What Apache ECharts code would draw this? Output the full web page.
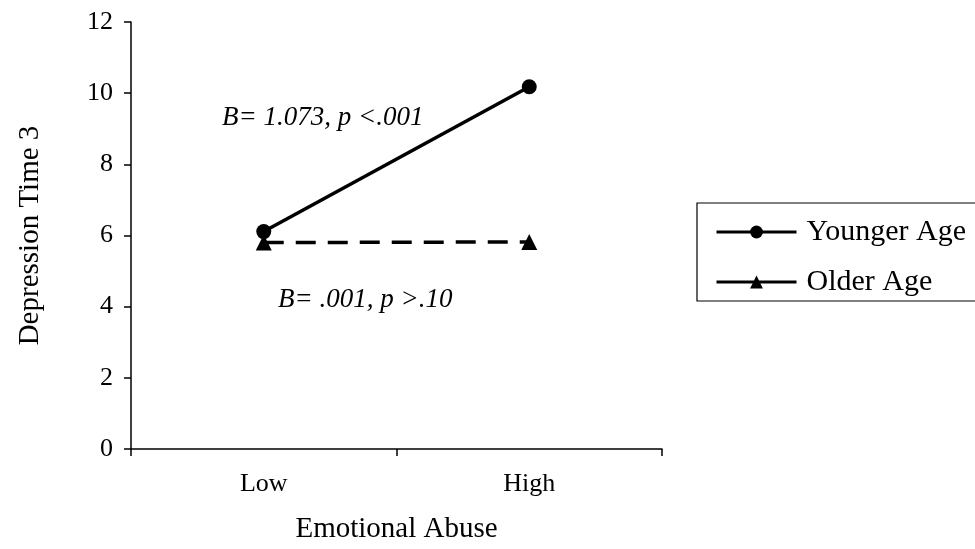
<!DOCTYPE html>
<html><head><meta charset="utf-8">
<script src="https://cdn.jsdelivr.net/npm/echarts@6/dist/echarts.min.js"></script>
<style>html,body{margin:0;padding:0;background:#fff}#c{width:975px;height:549px}</style>
</head><body><div id="c"></div>
<script>
const categories = ['Low', 'High'];
const younger = [6.11, 10.18];
const older = [5.8, 5.82];
const yTicks = [0, 2, 4, 6, 8, 10, 12];
const annotations = ['B= 1.073, p <.001', 'B= .001, p >.10'];

const FONT = 'Liberation Serif';
const chart = echarts.init(document.getElementById('c'));
chart.setOption({
  animation: false,
  backgroundColor: '#fff',
  grid: { left: 131, right: 313, top: 22, bottom: 99 },
  xAxis: {
    type: 'category', data: categories, boundaryGap: true,
    name: 'Emotional Abuse', nameLocation: 'middle', nameGap: 66,
    nameTextStyle: { fontFamily: FONT, fontSize: 29, color: '#000' },
    axisLine: { lineStyle: { color: '#000', width: 1.5 } },
    axisTick: { show: true, length: 7, lineStyle: { color: '#000', width: 1.5 } },
    axisLabel: { fontFamily: FONT, fontSize: 26, color: '#000', margin: 22 },
    splitLine: { show: false }
  },
  yAxis: {
    type: 'value', min: yTicks[0], max: yTicks[yTicks.length - 1], interval: 2,
    name: 'Depression Time 3', nameLocation: 'middle', nameGap: 86,
    nameTextStyle: { fontFamily: FONT, fontSize: 29, color: '#000' },
    axisLine: { show: true, lineStyle: { color: '#000', width: 1.5 } },
    axisTick: { show: true, length: 7, lineStyle: { color: '#000', width: 1.5 } },
    axisLabel: { fontFamily: FONT, fontSize: 26, color: '#000', margin: 18 },
    splitLine: { show: false }
  },
  legend: {
    orient: 'vertical', left: 697, top: 203,
    borderColor: '#000', borderWidth: 1.2,
    padding: [13, 30, 3, 18],
    itemWidth: 80, itemHeight: 16, itemGap: 18,
    textStyle: { fontFamily: FONT, fontSize: 30, color: '#000', lineHeight: 32, padding: [0, 0, 0, 5] },
    data: [
      { name: 'Younger Age', lineStyle: { width: 3 } },
      { name: 'Older Age', lineStyle: { type: 'solid', width: 3 } }
    ]
  },
  graphic: [
    { type: 'text', left: 222, top: 104, style: { text: annotations[0], fontFamily: FONT, fontSize: 27, fontStyle: 'italic', fill: '#000' } },
    { type: 'text', left: 278, top: 286, style: { text: annotations[1], fontFamily: FONT, fontSize: 27, fontStyle: 'italic', fill: '#000' } }
  ],
  series: [
    { name: 'Younger Age', type: 'line', data: younger, symbol: 'circle', symbolSize: 15,
      itemStyle: { color: '#000' }, lineStyle: { color: '#000', width: 3.5 }, z: 3 },
    { name: 'Older Age', type: 'line', data: older, symbol: 'triangle', symbolSize: 16,
      itemStyle: { color: '#000' }, lineStyle: { color: '#000', width: 3.5, type: [20, 12] }, z: 2 }
  ]
});
</script></body></html>
